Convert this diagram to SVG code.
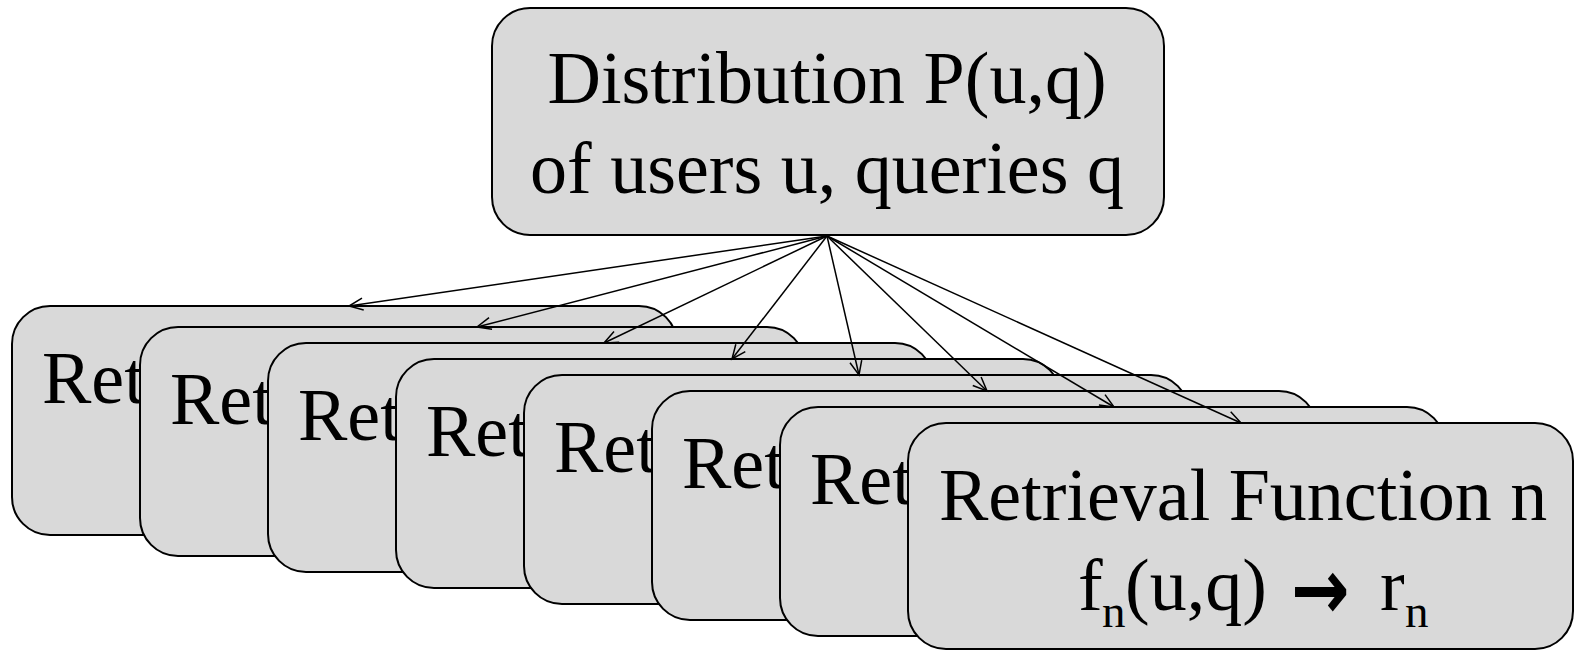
<svg xmlns="http://www.w3.org/2000/svg" width="1577" height="651" viewBox="0 0 1577 651">
<style>
.box{fill:#d9d9d9;stroke:#000;stroke-width:2}
.t{font-family:"Liberation Serif","Times New Roman",serif;font-size:74px;fill:#000}
.sub{font-family:"Liberation Serif","Times New Roman",serif;font-size:47px;fill:#000}
.arw{font-family:"DejaVu Sans",sans-serif;font-weight:bold;font-size:66px;fill:#000}
.c{fill:none;stroke:#000;stroke-width:1.5}
</style>
<defs>
<marker id="ah" markerUnits="userSpaceOnUse" markerWidth="20" markerHeight="16" refX="15" refY="7" orient="auto" viewBox="0 0 20 14">
<path d="M1,1 L15,7 L1,13" fill="none" stroke="#000" stroke-width="1.5"/>
</marker>
</defs>
<rect width="1577" height="651" fill="#fff"/>
<g id="dist">
<rect class="box" x="492" y="8" width="672" height="227" rx="38" ry="38"/>
<text class="t" x="827" y="103" text-anchor="middle">Distribution P(u,q)</text>
<text class="t" x="827" y="193" text-anchor="middle">of users u, queries q</text>
</g>
<g id="rf1"><rect class="box" x="12" y="306" width="665" height="229" rx="38" ry="38"/><text class="t" x="42" y="403">Ret</text></g>
<g id="rf2"><rect class="box" x="140" y="327" width="665" height="229" rx="38" ry="38"/><text class="t" x="170" y="424">Ret</text></g>
<g id="rf3"><rect class="box" x="268" y="343" width="665" height="229" rx="38" ry="38"/><text class="t" x="298" y="440">Ret</text></g>
<g id="rf4"><rect class="box" x="396" y="359" width="665" height="229" rx="38" ry="38"/><text class="t" x="426" y="456">Ret</text></g>
<g id="rf5"><rect class="box" x="524" y="375" width="665" height="229" rx="38" ry="38"/><text class="t" x="554" y="472">Ret</text></g>
<g id="rf6"><rect class="box" x="652" y="391" width="665" height="229" rx="38" ry="38"/><text class="t" x="682" y="488">Ret</text></g>
<g id="rf7"><rect class="box" x="780" y="407" width="665" height="229" rx="38" ry="38"/><text class="t" x="810" y="504">Ret</text></g>
<g id="rfn">
<rect class="box" x="908" y="423" width="665" height="226" rx="38" ry="38"/>
<text class="t" x="939" y="520">Retrieval Function n</text>
<text class="t" x="1078" y="610">f</text>
<text class="sub" x="1102" y="627">n</text>
<text class="t" x="1125" y="610">(u,q)</text>
<text class="arw" transform="translate(1291,619) scale(1.06,1.3)">→</text>
<text class="t" x="1380" y="610">r</text>
<text class="sub" x="1405" y="627">n</text>
</g>
<g id="connectors">
<line class="c" x1="827" y1="236" x2="349" y2="306" marker-end="url(#ah)"/>
<line class="c" x1="827" y1="236" x2="477" y2="327" marker-end="url(#ah)"/>
<line class="c" x1="827" y1="236" x2="604" y2="343" marker-end="url(#ah)"/>
<line class="c" x1="827" y1="236" x2="732" y2="359" marker-end="url(#ah)"/>
<line class="c" x1="827" y1="236" x2="859" y2="375" marker-end="url(#ah)"/>
<line class="c" x1="827" y1="236" x2="987" y2="391" marker-end="url(#ah)"/>
<line class="c" x1="827" y1="236" x2="1114" y2="407" marker-end="url(#ah)"/>
<line class="c" x1="827" y1="236" x2="1241" y2="423" marker-end="url(#ah)"/>
</g>
</svg>
